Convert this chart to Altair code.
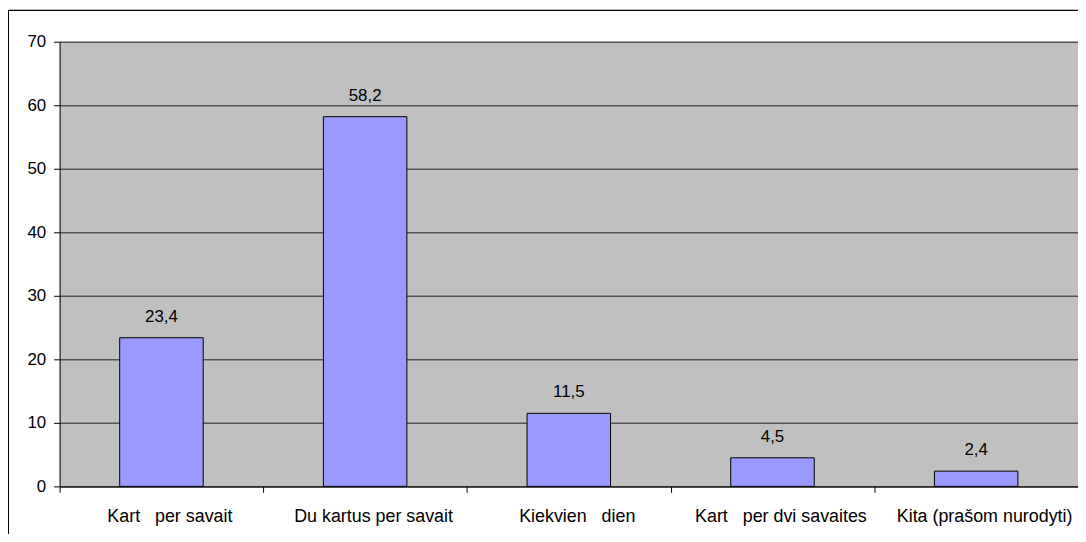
import altair as alt
import pandas as pd

categories = [
    "Kart\u00a0\u00a0\u00a0per savait",
    "Du kartus per savait",
    "Kiekvien\u00a0\u00a0\u00a0dien",
    "Kart\u00a0\u00a0\u00a0per dvi savaites",
    "Kita (prašom nurodyti)",
]
values = [23.4, 58.2, 11.5, 4.5, 2.4]
labels = ["23,4", "58,2", "11,5", "4,5", "2,4"]

df = pd.DataFrame({"cat": categories, "val": values, "lab": labels})

FONT = "Liberation Sans"
FS = 18

x = alt.X(
    "cat:N",
    sort=categories,
    title=None,
    scale=alt.Scale(paddingInner=0, paddingOuter=0),
    axis=alt.Axis(
        labelAngle=0,
        tickBand="extent",
        tickSize=6,
        tickColor="#000000",
        domainColor="#000000",
        labelPadding=15,
        labelFont=FONT,
        labelFontSize=FS,
        labelColor="#000000",
        labelOffset=8,
        labelLimit=300,
        labelBaseline="top",
    ),
)

y = alt.Y(
    "val:Q",
    title=None,
    scale=alt.Scale(domain=[0, 70], nice=False),
    axis=alt.Axis(
        values=[0, 10, 20, 30, 40, 50, 60, 70],
        tickSize=6,
        tickColor="#000000",
        domainColor="#000000",
        grid=True,
        gridColor="#555555",
        gridWidth=1.5,
        labelPadding=8,
        labelFont=FONT,
        labelFontSize=17,
        labelColor="#000000",
    ),
)

bars = alt.Chart(df).mark_bar(
    color="#9999FF", stroke="#000000", strokeWidth=1,
    width=alt.RelativeBandSize(0.41),
).encode(x=x, y=y)

text = alt.Chart(df).mark_text(
    font=FONT, fontSize=17, baseline="bottom", dy=-12, color="#000000"
).encode(x=alt.X("cat:N", sort=categories), y="val:Q", text="lab:N")

border_left = alt.Chart(df).mark_rule(color="#000000", strokeWidth=1).encode(
    x=alt.value(-51.5), y=alt.value(-31.5), y2=alt.value(600)
)
border_top = alt.Chart(df).mark_rule(color="#000000", strokeWidth=1).encode(
    x=alt.value(-51.5), x2=alt.value(1100), y=alt.value(-31.5)
)

chart = alt.layer(bars, text, border_left, border_top).properties(
    width=1026,
    height=448,
    autosize=alt.AutoSizeParams(type="none"),
    padding={"left": 52, "top": 32, "right": 0, "bottom": 46},
    view=alt.ViewBackground(fill="#C0C0C0", strokeWidth=0),
).configure(background="#FFFFFF")

chart.save("out.html", embed_options={"renderer": "svg", "actions": False})
